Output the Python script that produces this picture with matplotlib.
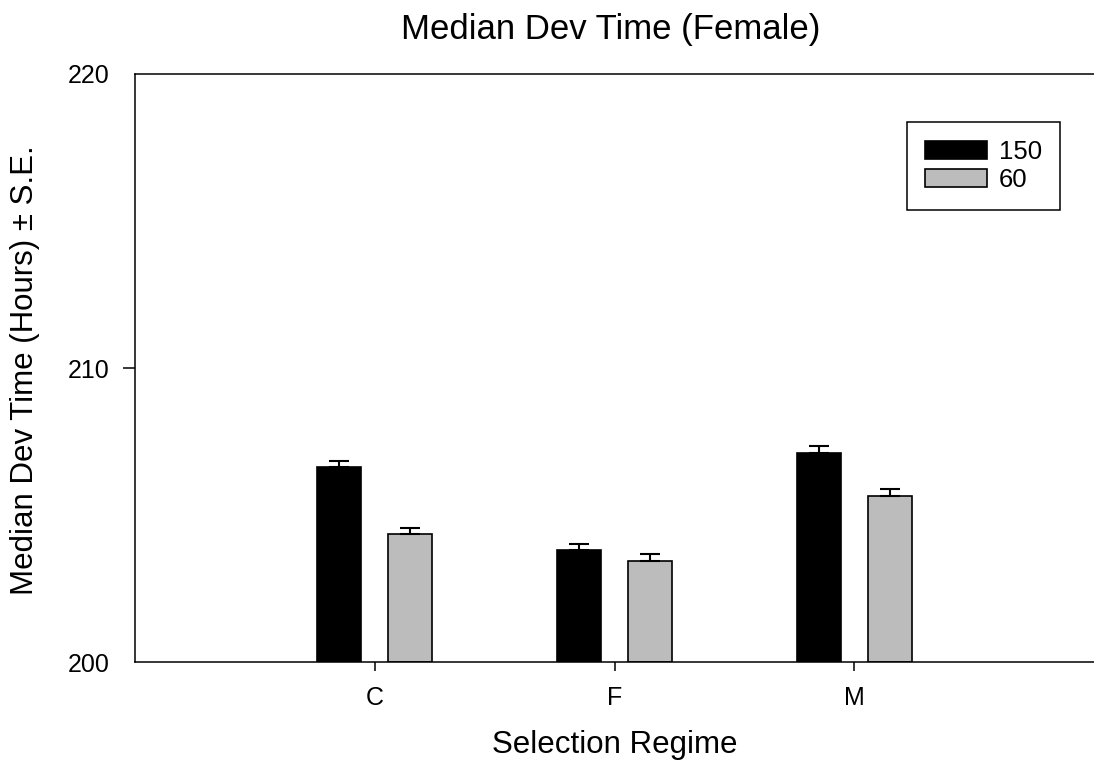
import matplotlib
matplotlib.use("Agg")
import matplotlib.pyplot as plt
import numpy as np

plt.rcParams['font.family'] = ['Liberation Sans', 'DejaVu Sans']

categories = ["C", "F", "M"]
series_names = ["150", "60"]
values_150 = [206.62, 203.80, 207.12]
se_150 = [0.23, 0.21, 0.22]
values_60 = [204.34, 203.44, 205.65]
se_60 = [0.23, 0.23, 0.23]

W, H = 1094, 767
fig = plt.figure(figsize=(W / 100, H / 100), dpi=100)
ax = fig.add_axes([135 / W, 1 - 662 / H, (W - 135) / W, (662 - 74) / H])

x = np.arange(1, len(categories) + 1)
bw = 0.185
off = 0.148
base = 200
ax.bar(x - off, np.array(values_150) - base, bw, bottom=base, color='black',
       edgecolor='black', linewidth=1.2, label=series_names[0], zorder=2)
ax.bar(x + off, np.array(values_60) - base, bw, bottom=base, color='#bcbcbc',
       edgecolor='black', linewidth=1.2, label=series_names[1], zorder=2)
ax.errorbar(x - off, values_150, yerr=[np.zeros(3), se_150], fmt='none',
            ecolor='black', elinewidth=1.5, capsize=7.4, capthick=1.5, zorder=3)
ax.errorbar(x + off, values_60, yerr=[np.zeros(3), se_60], fmt='none',
            ecolor='black', elinewidth=1.5, capsize=7.4, capthick=1.5, zorder=3)

ax.set_xlim(0, 4)
ax.set_ylim(200, 220)
ax.set_yticks([200, 210, 220])
ax.set_xticks(x)
ax.set_xticklabels(categories)
ax.spines['right'].set_visible(False)
for s in ['left', 'top', 'bottom']:
    ax.spines[s].set_linewidth(1.1)
ax.tick_params(axis='y', direction='out', length=8.6, width=1.1, labelsize=18, pad=9.5)
ax.tick_params(axis='x', direction='out', length=6.5, width=1.1, labelsize=18, pad=11)
ax.yaxis.set_ticks_position('left')
ax.xaxis.set_ticks_position('bottom')
yt = ax.yaxis.get_major_ticks()
yt[0].tick1line.set_visible(False)
yt[-1].tick1line.set_visible(False)

ax.set_xlabel("Selection Regime", fontsize=22.5, va='center')
ax.xaxis.set_label_coords(0.5, -(745 - 662) / (662 - 74))
ax.set_ylabel("Median Dev Time (Hours) \u00b1 S.E.", fontsize=22.5, va='center')
ax.yaxis.set_label_coords(-(135 - 25) / (W - 135), (662 - 370) / (662 - 74))
fig.text(611 / W, 1 - 29 / H, "Median Dev Time (Female)", fontsize=25,
         ha='center', va='center')

leg = ax.legend(loc='upper left', bbox_to_anchor=(907 / W, 1 - 122 / H),
                bbox_transform=fig.transFigure, borderaxespad=0,
                fontsize=18.5, fancybox=False, edgecolor='black', framealpha=1,
                handlelength=2.41, handleheight=0.7, handletextpad=0.47,
                borderpad=0.7, labelspacing=0.15)
leg.get_frame().set_linewidth(1.1)

fig.savefig("out.png", dpi=100)
